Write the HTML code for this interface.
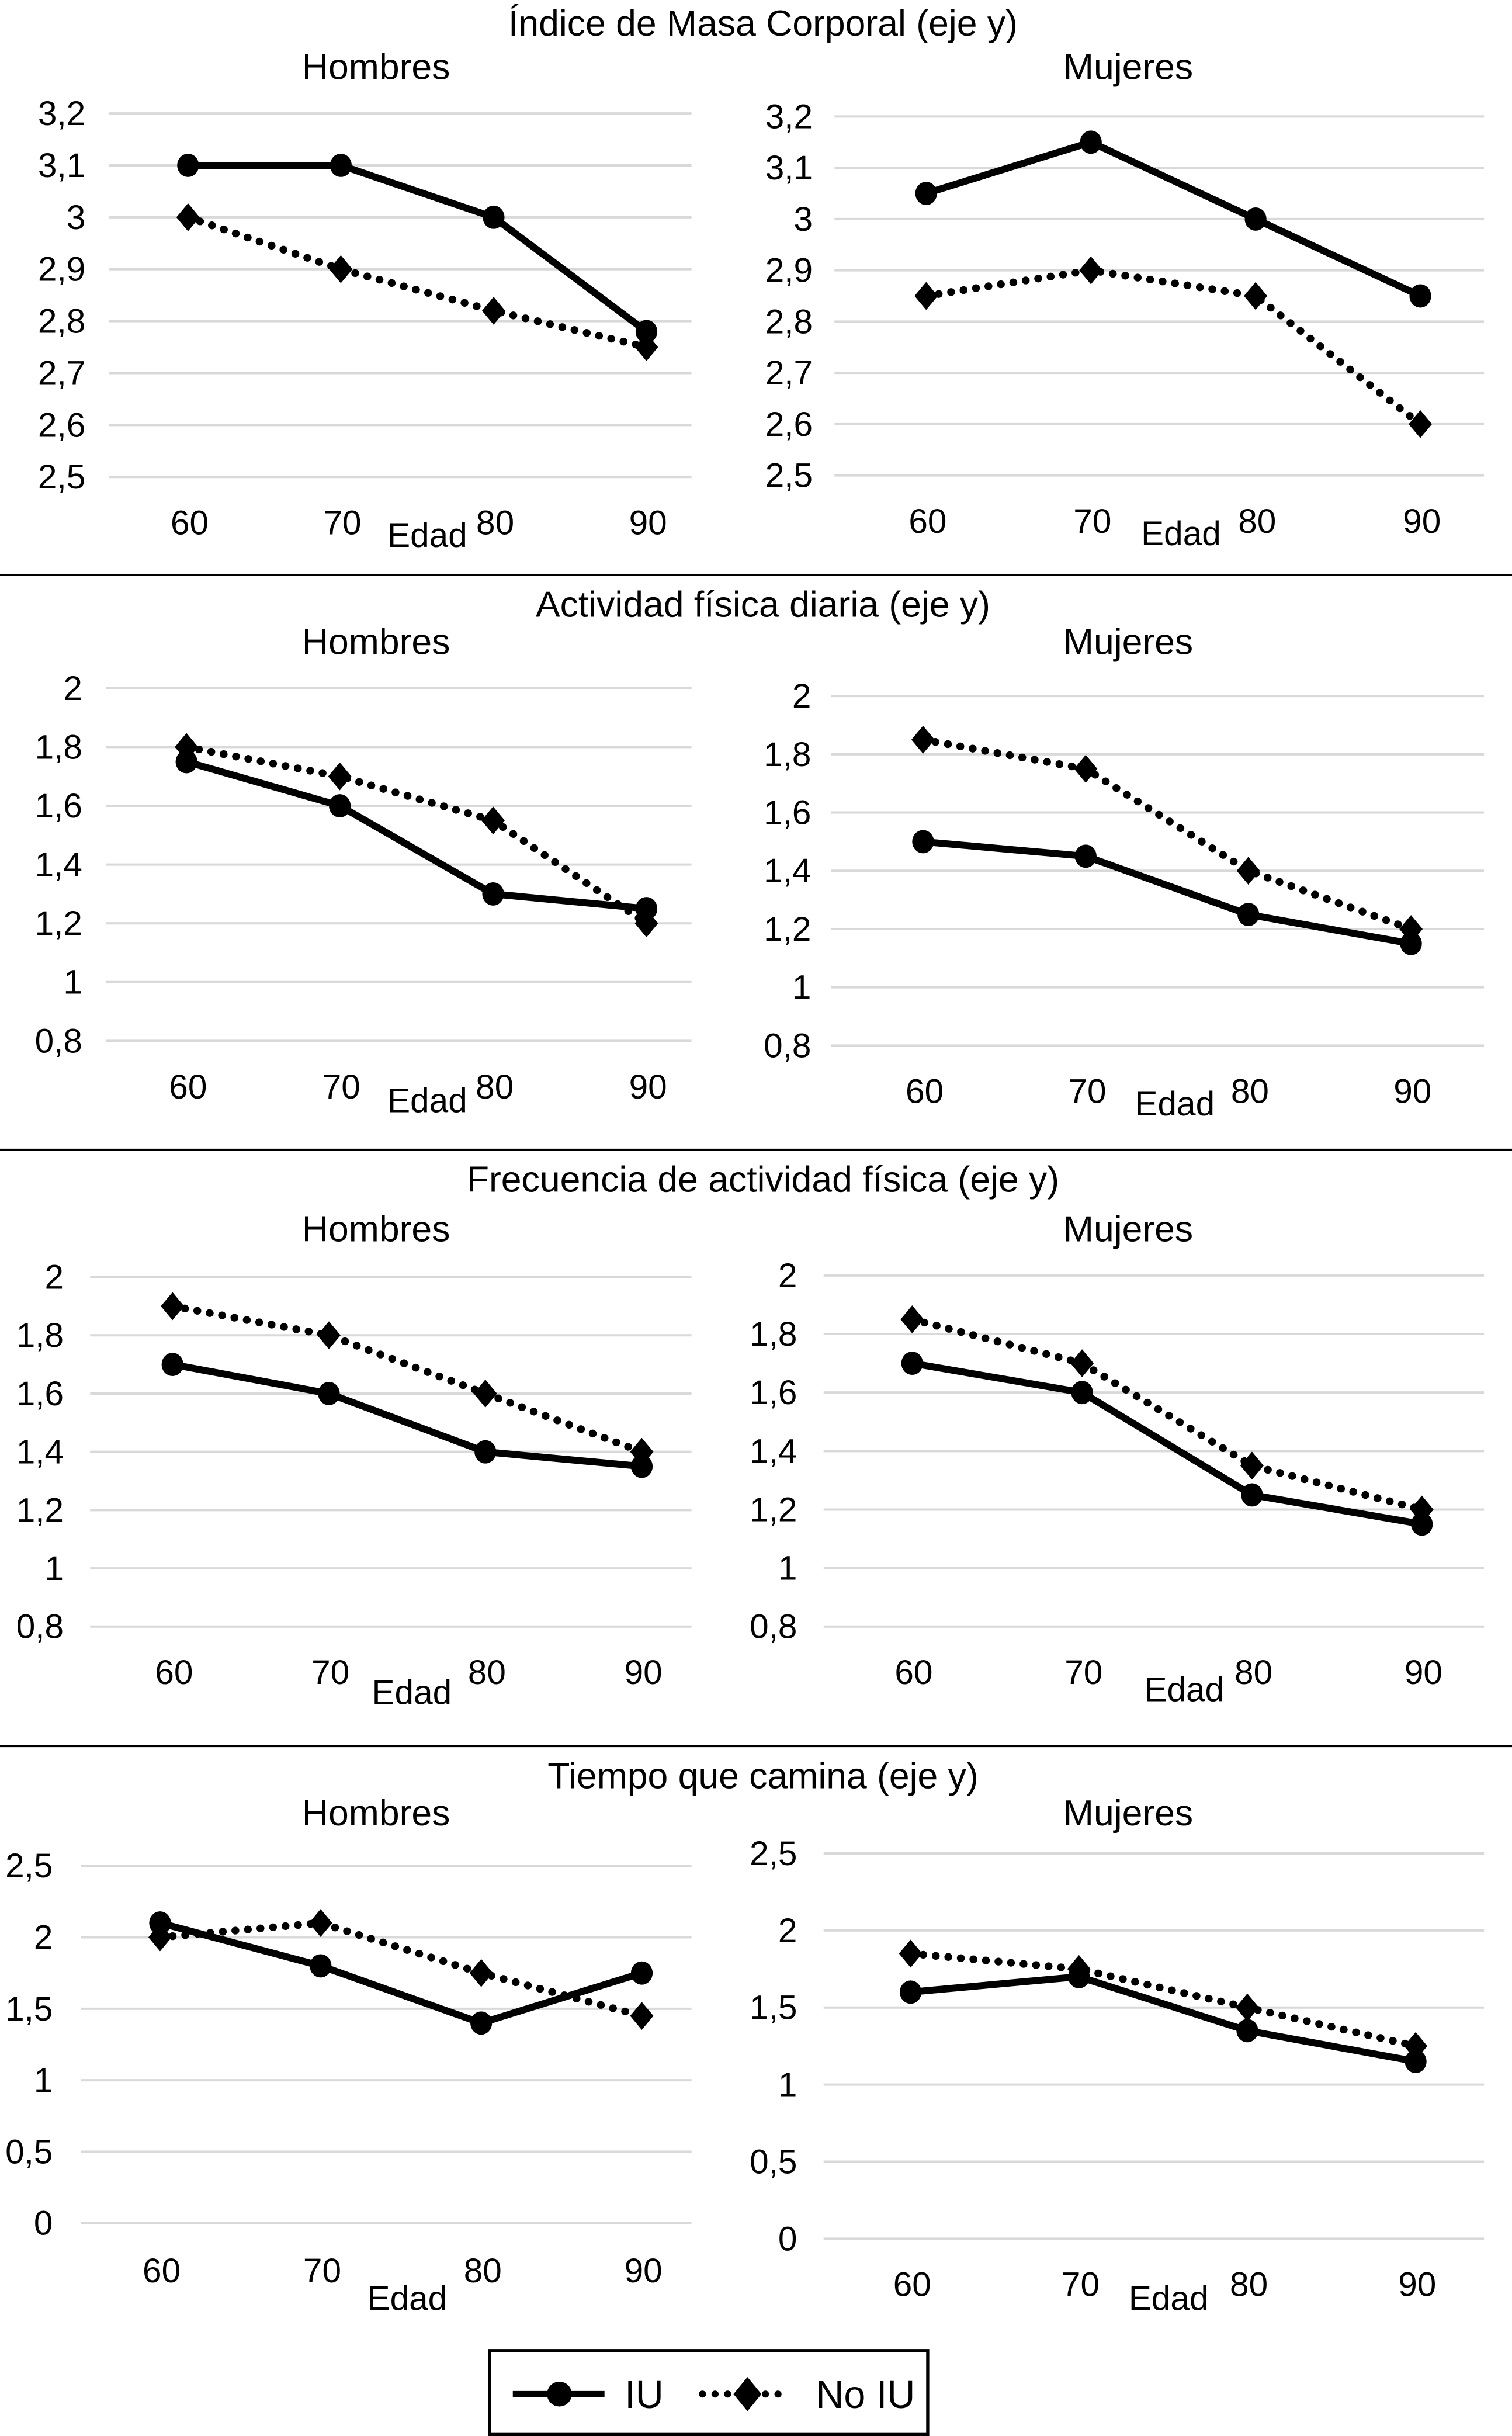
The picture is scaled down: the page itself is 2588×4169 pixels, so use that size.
<!DOCTYPE html>
<html><head><meta charset="utf-8"><style>
html,body{margin:0;padding:0;background:#fff;}
svg{display:block;}
text{font-family:"Liberation Sans",sans-serif;fill:#000;}
</style></head><body>
<svg id="fig" width="2588" height="4169" viewBox="0 0 973 1568" preserveAspectRatio="none" xmlns="http://www.w3.org/2000/svg">
<g>
<line x1="0" x2="973" y1="370" y2="370" stroke="#000" stroke-width="1.2"/>
<line x1="0" x2="973" y1="740" y2="740" stroke="#000" stroke-width="1.2"/>
<line x1="0" x2="973" y1="1124" y2="1124" stroke="#000" stroke-width="1.2"/>
</g>
<g>
<rect x="315" y="1513" width="282" height="54" fill="#fff" stroke="#000" stroke-width="2"/>
<line x1="330" x2="389" y1="1541" y2="1541" stroke="#000" stroke-width="4"/>
<ellipse cx="360" cy="1541" rx="8" ry="8" fill="#000"/>
<text x="402" y="1550" font-size="25">IU</text>
<line x1="452" x2="508" y1="1541" y2="1541" stroke="#000" stroke-width="4.5" stroke-dasharray="0.1 8" stroke-linecap="round"/>
<polygon points="481,1530 490,1541 481,1552 472,1541" fill="#000"/>
<text x="525" y="1550" font-size="25">No IU</text>
</g>
</svg>
<script>
const ages = ["60","70","80","90"];
// Panel 1: Índice de Masa Corporal
const imcTicks = [2.5,2.6,2.7,2.8,2.9,3.0,3.1,3.2];
const imcHombresIU = [3.1,3.1,3.0,2.78];
const imcHombresNoIU = [3.0,2.9,2.82,2.75];
const imcMujeresIU = [3.05,3.15,3.0,2.85];
const imcMujeresNoIU = [2.85,2.9,2.85,2.6];
// Panel 2: Actividad física diaria
const afdTicks = [0.8,1.0,1.2,1.4,1.6,1.8,2.0];
const afdHombresIU = [1.75,1.6,1.3,1.25];
const afdHombresNoIU = [1.8,1.7,1.55,1.2];
const afdMujeresIU = [1.5,1.45,1.25,1.15];
const afdMujeresNoIU = [1.85,1.75,1.4,1.2];
// Panel 3: Frecuencia
const frTicks = [0.8,1.0,1.2,1.4,1.6,1.8,2.0];
const frHombresIU = [1.7,1.6,1.4,1.35];
const frHombresNoIU = [1.9,1.8,1.6,1.4];
const frMujeresIU = [1.7,1.6,1.25,1.15];
const frMujeresNoIU = [1.85,1.7,1.35,1.2];
// Panel 4: Tiempo que camina
const tcTicks = [0,0.5,1.0,1.5,2.0,2.5];
const tcHombresIU = [2.1,1.8,1.4,1.75];
const tcHombresNoIU = [2.0,2.1,1.75,1.45];
const tcMujeresIU = [1.6,1.7,1.35,1.15];
const tcMujeresNoIU = [1.85,1.75,1.5,1.25];

const NS="http://www.w3.org/2000/svg";
const svg=document.getElementById('fig');
function mk(tag,attrs,parent){const e=document.createElementNS(NS,tag);for(const k in attrs)e.setAttribute(k,attrs[k]);(parent||svg).appendChild(e);return e;}
function fmt(v){let s=(Math.round(v*10)/10).toString();return s.replace('.',',');}

function chart(cfg){
  const g=mk('g',{});
  
  
  const tmin=cfg.ticks[0], tmax=cfg.ticks[cfg.ticks.length-1];
  const y=v=>cfg.yTop+(tmax-v)/(tmax-tmin)*(cfg.yBot-cfg.yTop);
  const x=i=>cfg.x0+i*(cfg.x1-cfg.x0)/(ages.length-1);
  cfg.ticks.forEach(t=>{
    const l=mk('line',{x1:cfg.gx0,x2:cfg.gx1,y1:y(t),y2:y(t),stroke:'#d9d9d9','stroke-width':1.5},g);
    
    
    const tx=mk('text',{x:cfg.lx,y:y(t)+7.5,'font-size':22,'text-anchor':'end'},g);
    tx.textContent=fmt(t);
    
    
  });
  ages.forEach((a,i)=>{
    const tx=mk('text',{x:x(i)+1,y:cfg.ly,'font-size':22,'text-anchor':'middle'},g);
    tx.textContent=a;
    
    
  });
  const ed=mk('text',{x:cfg.ex,y:cfg.ey,'font-size':22,'text-anchor':'middle'},g);
  ed.textContent='Edad';
  
  
  const st=mk('text',{x:cfg.sx,y:cfg.sy,'font-size':23.5,'text-anchor':'middle'},g);
  st.textContent=cfg.sub;
  
  
  const pn=cfg.no.map((v,i)=>x(i)+','+y(v)).join(' ');
  const ln=mk('polyline',{points:pn,fill:'none',stroke:'#000','stroke-width':5,'stroke-dasharray':'0.1 8','stroke-linecap':'round'},g);
  
  
  cfg.no.forEach((v,i)=>{
    const cx=x(i),cy=y(v);
    const d=mk('polygon',{points:`${cx},${cy-9} ${cx+7.5},${cy} ${cx},${cy+9} ${cx-7.5},${cy}`,fill:'#000'},g);
    
    
  });
  const pi=cfg.iu.map((v,i)=>x(i)+','+y(v)).join(' ');
  const li=mk('polyline',{points:pi,fill:'none',stroke:'#000','stroke-width':4.5,'stroke-linejoin':'round'},g);
  
  
  cfg.iu.forEach((v,i)=>{
    const c=mk('ellipse',{cx:x(i),cy:y(v),rx:7,ry:7.5,fill:'#000'},g);
    
    
  });
}
function title(txt,yy,name){
  const t=mk('text',{x:491,y:yy,'font-size':23.5,'text-anchor':'middle'});
  t.textContent=txt;
  
  
}
title('Índice de Masa Corporal (eje y)',23,'panel-title-imc');
title('Actividad física diaria (eje y)',397,'panel-title-actividad');
title('Frecuencia de actividad física (eje y)',767,'panel-title-frecuencia');
title('Tiempo que camina (eje y)',1151,'panel-title-tiempo');

chart({name:'imc-hombres',ticks:imcTicks,iu:imcHombresIU,no:imcHombresNoIU,yTop:73,yBot:307,x0:121,x1:416,gx0:70,gx1:445,lx:55,ly:344,ex:275,ey:352,sx:242,sy:51,sub:'Hombres'});
chart({name:'imc-mujeres',ticks:imcTicks,iu:imcMujeresIU,no:imcMujeresNoIU,yTop:75,yBot:306,x0:596,x1:914,gx0:537,gx1:955,lx:523,ly:343,ex:760,ey:351,sx:726,sy:51,sub:'Mujeres'});
chart({name:'actividad-hombres',ticks:afdTicks,iu:afdHombresIU,no:afdHombresNoIU,yTop:443,yBot:670,x0:120,x1:416,gx0:68,gx1:445,lx:53,ly:707,ex:275,ey:716,sx:242,sy:421,sub:'Hombres'});
chart({name:'actividad-mujeres',ticks:afdTicks,iu:afdMujeresIU,no:afdMujeresNoIU,yTop:448,yBot:673,x0:594,x1:908,gx0:535,gx1:955,lx:522,ly:710,ex:756,ey:718,sx:726,sy:421,sub:'Mujeres'});
chart({name:'frecuencia-hombres',ticks:frTicks,iu:frHombresIU,no:frHombresNoIU,yTop:822,yBot:1047,x0:111,x1:413,gx0:58,gx1:445,lx:41,ly:1084,ex:265,ey:1097,sx:242,sy:799,sub:'Hombres'});
chart({name:'frecuencia-mujeres',ticks:frTicks,iu:frMujeresIU,no:frMujeresNoIU,yTop:821,yBot:1047,x0:587,x1:915,gx0:530,gx1:955,lx:513,ly:1084,ex:762,ey:1095,sx:726,sy:799,sub:'Mujeres'});
chart({name:'tiempo-hombres',ticks:tcTicks,iu:tcHombresIU,no:tcHombresNoIU,yTop:1201,yBot:1431,x0:103,x1:413,gx0:52,gx1:445,lx:34,ly:1469,ex:262,ey:1487,sx:242,sy:1175,sub:'Hombres'});
chart({name:'tiempo-mujeres',ticks:tcTicks,iu:tcMujeresIU,no:tcMujeresNoIU,yTop:1193,yBot:1441,x0:586,x1:911,gx0:530,gx1:955,lx:513,ly:1478,ex:752,ey:1487,sx:726,sy:1175,sub:'Mujeres'});
</script>
</body></html>
